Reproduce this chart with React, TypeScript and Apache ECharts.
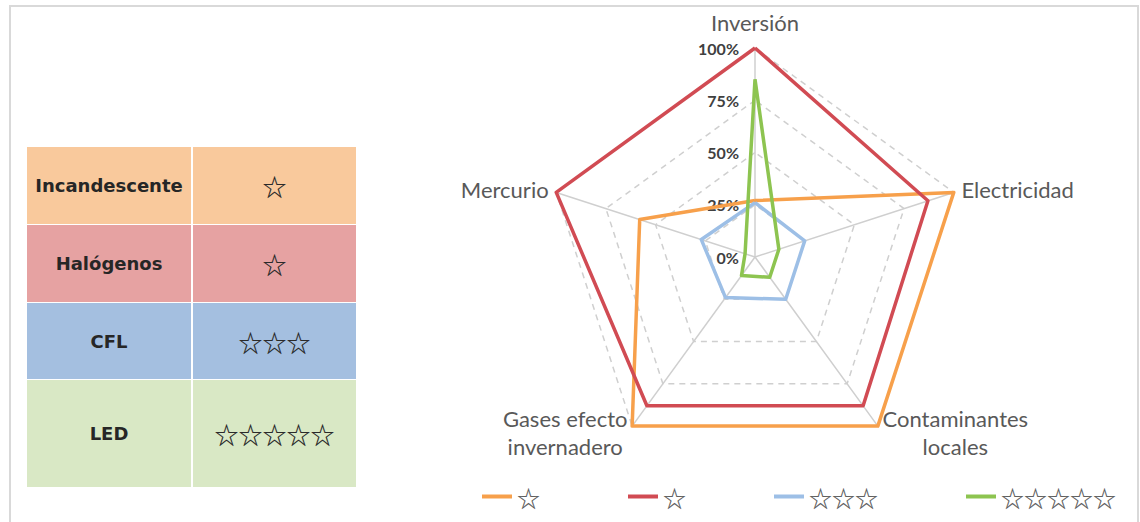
import React, { useEffect, useRef } from 'react';
import * as echarts from 'echarts';

// Indicators in ECharts order (counter-clockwise from the top)
const indicatorNames = ['Inversión', 'Mercurio', 'Gases efecto\ninvernadero', 'Contaminantes\nlocales', 'Electricidad'];
const tickLabels = ['0%', '25%', '50%', '75%', '100%'];

const seriesNames = ['Incandescente', 'Halógenos', 'CFL', 'LED'];
const ratings = ['☆', '☆', '☆☆☆', '☆☆☆☆☆'];

// values: Inversión, Mercurio, Gases efecto invernadero, Contaminantes locales, Electricidad
const incandescente = [0.27, 0.58, 1.0, 1.0, 1.0];
const halogenos = [1.0, 1.0, 0.88, 0.88, 0.87];
const cfl = [0.26, 0.27, 0.24, 0.25, 0.25];
const led = [0.85, 0.05, 0.11, 0.12, 0.12];

const seriesValues = [incandescente, halogenos, cfl, led];
const lineColors = ['#F7A04B', '#D14B53', '#9DBFE6', '#8DC450'];
const cellColors = ['#F9C99C', '#E6A2A2', '#A4BFE0', '#D9E8C5'];

// table layout
const tableLeft = 27;
const col1Width = 164;
const col2Left = 193;
const col2Width = 163;
const rowTops = [147, 225, 303, 380];
const rowHeights = [77, 77, 76, 107];

export default function App() {
  const ref = useRef<HTMLDivElement>(null);

  useEffect(() => {
    document.body.style.margin = '0';
    if (!ref.current) return;
    const chart = echarts.init(ref.current, null, { renderer: 'svg' });

    const tableGraphics: any[] = [];
    seriesNames.forEach((name, i) => {
      const y = rowTops[i];
      const h = rowHeights[i];
      tableGraphics.push({
        type: 'rect',
        shape: { x: tableLeft, y, width: col1Width, height: h },
        style: { fill: cellColors[i] },
        silent: true,
      });
      tableGraphics.push({
        type: 'rect',
        shape: { x: col2Left, y, width: col2Width, height: h },
        style: { fill: cellColors[i] },
        silent: true,
      });
      tableGraphics.push({
        type: 'text',
        x: tableLeft + col1Width / 2,
        y: y + h / 2,
        style: {
          text: name,
          font: 'bold 18px "DejaVu Sans"',
          fill: '#262626',
          align: 'center',
          verticalAlign: 'middle',
        },
        silent: true,
      });
      tableGraphics.push({
        type: 'text',
        x: col2Left + col2Width / 2,
        y: y + h / 2,
        style: {
          text: ratings[i],
          font: 'bold 24px "Noto Sans CJK SC"',
          fill: '#2a2a2a',
          align: 'center',
          verticalAlign: 'middle',
        },
        silent: true,
      });
    });

    const indicators = indicatorNames.map((name, i) => {
      const ind: any = { name, min: 0, max: 1 };
      if (i === 0) {
        ind.nameGap = 12;
        ind.axisLabel = {
          show: true,
          fontFamily: 'Lato',
          fontWeight: 'bold',
          fontSize: 16,
          color: '#404040',
          margin: 16,
          formatter: (_v: number, idx: number) => tickLabels[idx],
        };
      }
      return ind;
    });

    const option: any = {
      animation: false,
      graphic: [
        {
          type: 'rect',
          shape: { x: 10, y: 6, width: 1128, height: 540 },
          style: { fill: 'none', stroke: '#d9d9d9', lineWidth: 2 },
          silent: true,
          z: -10,
        },
        ...tableGraphics,
      ],
      legend: {
        data: seriesNames,
        left: 477,
        top: 480,
        icon: 'rect',
        itemWidth: 30,
        itemHeight: 4,
        itemGap: 88,
        formatter: (name: string) => ratings[seriesNames.indexOf(name)],
        textStyle: { fontFamily: 'Noto Sans CJK SC', fontWeight: 'bold', fontSize: 23, color: '#606060' },
      },
      radar: {
        center: [755, 257],
        radius: 209,
        startAngle: 90,
        splitNumber: 4,
        shape: 'polygon',
        axisNameGap: 8,
        axisName: {
          color: '#595959',
          fontFamily: 'Lato',
          fontSize: 22,
          lineHeight: 28,
          formatter: (name: string) =>
            name
              .split('\n')
              .map((l) => `{c|${l}}`)
              .join('\n'),
          rich: {
            c: { align: 'center', color: '#595959', fontFamily: 'Lato', fontSize: 22, lineHeight: 28 },
          },
        },
        indicator: indicators,
        axisLine: { lineStyle: { color: '#cfcfcf', width: 1.5 } },
        splitLine: { lineStyle: { color: '#cfcfcf', type: [6, 5], width: 1.5 } },
        splitArea: { show: false },
        axisTick: { show: false },
        axisLabel: { show: false },
      },
      series: [
        {
          type: 'radar',
          symbol: 'none',
          data: seriesNames.map((name, i) => ({
            name,
            value: seriesValues[i],
            lineStyle: { color: lineColors[i], width: 3.5 },
            itemStyle: { color: lineColors[i] },
          })),
        },
      ],
    };

    chart.setOption(option);
    return () => chart.dispose();
  }, []);

  return <div ref={ref} style={{ width: 1140, height: 522 }} />;
}
